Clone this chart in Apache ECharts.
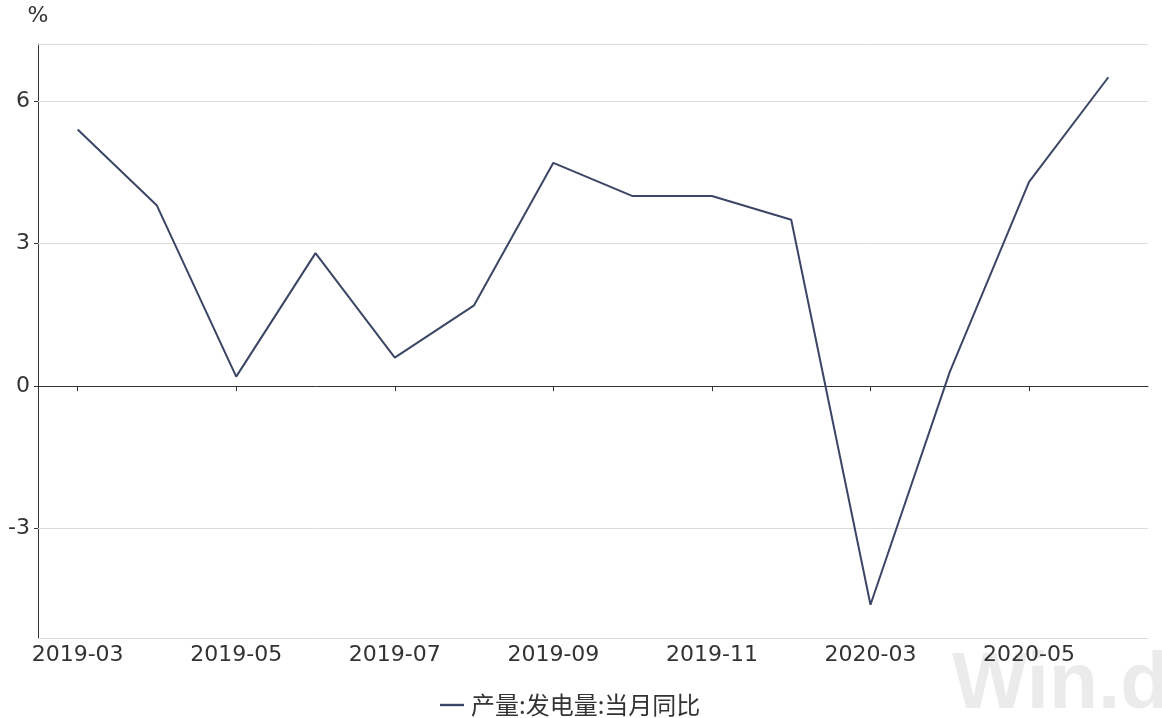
<!DOCTYPE html>
<html>
<head>
<meta charset="utf-8">
<style>html,body{margin:0;padding:0;background:#fff;}#c{width:1162px;height:718px;}</style>
<script src="https://cdn.jsdelivr.net/npm/echarts@6/dist/echarts.min.js"></script>
</head>
<body>
<div id="c"></div>
<script>
const categories = ['2019-03','2019-04','2019-05','2019-06','2019-07','2019-08','2019-09','2019-10','2019-11','2019-12','2020-03','2020-04','2020-05','2020-06'];
const values = [5.4, 3.8, 0.2, 2.8, 0.6, 1.7, 4.7, 4.0, 4.0, 3.5, -4.6, 0.3, 4.3, 6.5];
const seriesName = '产量:发电量:当月同比';
const yTicks = [-3, 0, 3, 6];
const yMin = -5.3, yMax = 7.2;

const numFont = '"DejaVu Sans", sans-serif';
const cjkFont = '"Noto Sans CJK SC", sans-serif';
const gridColor = '#dcdcdc';
const chart = echarts.init(document.getElementById('c'), null, {renderer: 'canvas'});

const gridLines = yTicks.filter(v => v !== 0).concat([yMax]).map(v => ({yAxis: v}));

chart.setOption({
  animation: false,
  backgroundColor: '#fff',
  grid: {left: 38, right: 14, top: 44, bottom: 80, containLabel: false},
  legend: {
    bottom: 1, left: 440, padding: 0,
    itemWidth: 24, itemHeight: 10, itemGap: 6,
    icon: 'path://M0,3.8 L24,3.8 L24,6.2 L0,6.2 Z',
    textStyle: {fontSize: 24, color: '#333', fontFamily: cjkFont, padding: [0, 0, 0, 2]},
    data: [seriesName]
  },
  xAxis: [{
    type: 'category', data: categories, boundaryGap: true, position: 'bottom',
    axisLine: {onZero: false, lineStyle: {color: gridColor, width: 1}},
    axisTick: {show: false},
    axisLabel: {interval: 1, fontSize: 22, color: '#333', margin: 6, fontFamily: numFont},
    splitLine: {show: false}
  }, {
    type: 'category', data: categories, boundaryGap: true, position: 'top',
    axisLine: {onZero: true, lineStyle: {color: '#333', width: 1}},
    axisTick: {show: true, inside: true, length: 5, alignWithLabel: true, interval: 1, lineStyle: {color: '#333'}},
    axisLabel: {show: false},
    splitLine: {show: false}
  }],
  yAxis: {
    type: 'value', min: yMin, max: yMax,
    name: '%', nameLocation: 'end', nameGap: 17,
    nameTextStyle: {fontSize: 22, color: '#333', align: 'center', fontFamily: numFont},
    axisLine: {show: true, onZero: false, lineStyle: {color: '#333', width: 1}},
    axisTick: {show: true, length: 4, customValues: yTicks, lineStyle: {color: '#333'}},
    axisLabel: {fontSize: 22, color: '#333', margin: 8, fontFamily: numFont, customValues: yTicks},
    splitLine: {show: false}
  },
  graphic: [{
    type: 'text', x: 952, y: 686, silent: true, z: -1,
    style: {text: 'Win.d', fontSize: 80, fontWeight: 'bold', fill: '#ebebeb',
            fontFamily: '"Liberation Sans", Arial, sans-serif', verticalAlign: 'middle'}
  }],
  series: [{
    name: seriesName, type: 'line', xAxisIndex: 0, data: values,
    showSymbol: false, symbol: 'none',
    lineStyle: {color: '#3b4566', width: 2},
    itemStyle: {color: '#3b4566'},
    markLine: {
      silent: true, symbol: ['none', 'none'], label: {show: false},
      lineStyle: {color: gridColor, width: 1, type: 'solid'},
      emphasis: {disabled: true},
      data: gridLines,
      z: 1
    }
  }]
});
</script>
</body>
</html>
